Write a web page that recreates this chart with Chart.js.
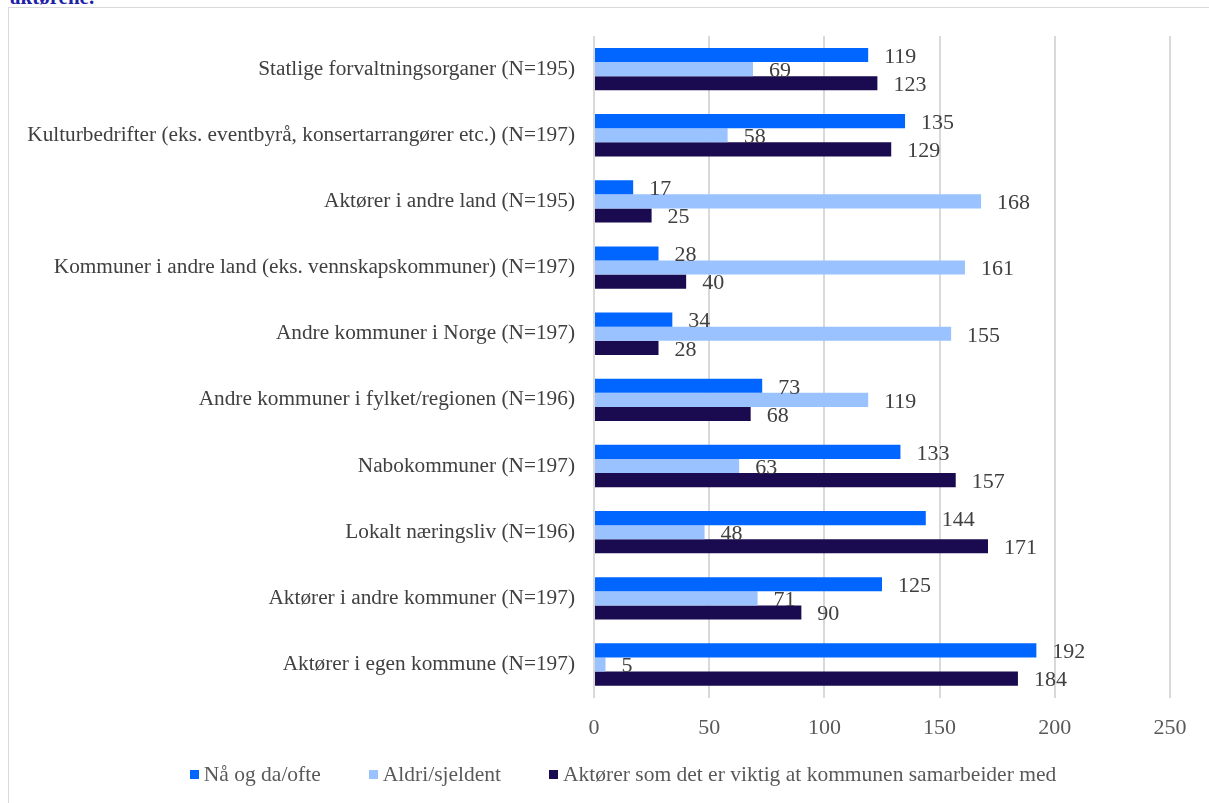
<!DOCTYPE html>
<html>
<head>
<meta charset="utf-8">
<script src="https://cdn.jsdelivr.net/npm/chart.js@4/dist/chart.umd.min.js"></script>
<style>
  html, body { margin: 0; padding: 0; background: #fff; overflow: hidden; }
  body { width: 1209px; height: 803px; position: relative; }
  #topTekst { position: absolute; left: 10px; top: -15px; font-family: "Liberation Serif", serif; font-size: 21px; font-weight: bold; color: #1f1fa8; }
  #ramme { position: absolute; left: 8px; top: 7px; width: 1228px; height: 810px; border: 1px solid #d9d9d9; }
  #ramme canvas { position: absolute; left: 0; top: 0; }
  #forklaring { position: absolute; left: 0; width: 1228px; top: 754px; display: flex; justify-content: center;
    font-family: "Liberation Serif", serif; font-size: 21.5px; color: #595959; line-height: 24px; }
  .post { display: flex; align-items: center; margin: 0 24px; white-space: nowrap; }
  .boks { width: 9px; height: 9px; margin-right: 5px; }
</style>
</head>
<body>
<div id="topTekst">aktørene.</div>
<div id="ramme">
  <canvas id="chartSamarbeid" width="1228" height="810"></canvas>
  <div id="forklaring"></div>
</div>
<script>
const kategorier = [
  'Statlige forvaltningsorganer (N=195)',
  'Kulturbedrifter (eks. eventbyrå, konsertarrangører etc.) (N=197)',
  'Aktører i andre land (N=195)',
  'Kommuner i andre land (eks. vennskapskommuner) (N=197)',
  'Andre kommuner i Norge (N=197)',
  'Andre kommuner i fylket/regionen (N=196)',
  'Nabokommuner (N=197)',
  'Lokalt næringsliv (N=196)',
  'Aktører i andre kommuner (N=197)',
  'Aktører i egen kommune (N=197)'
];
const naaOgDaOfte = [119, 135, 17, 28, 34, 73, 133, 144, 125, 192];
const aldriSjeldent = [69, 58, 168, 161, 155, 119, 63, 48, 71, 5];
const viktigSamarbeid = [123, 129, 25, 40, 28, 68, 157, 171, 90, 184];
const serieNavn = ['Nå og da/ofte', 'Aldri/sjeldent', 'Aktører som det er viktig at kommunen samarbeider med'];
const xTicks = [0, 50, 100, 150, 200, 250];

const serif = '"Liberation Serif", "Times New Roman", serif';

// verdietiketter til høyre for hver stolpe
const verdiEtiketter = {
  id: 'verdiEtiketter',
  afterDatasetsDraw(chart) {
    const ctx = chart.ctx;
    ctx.save();
    ctx.font = '22px ' + serif;
    ctx.fillStyle = '#404040';
    ctx.textAlign = 'left';
    ctx.textBaseline = 'middle';
    chart.data.datasets.forEach((ds, i) => {
      chart.getDatasetMeta(i).data.forEach((bar, j) => {
        ctx.fillText(ds.data[j], bar.x + 16, bar.y + 2);
      });
    });
    ctx.restore();
  }
};

const ctx = document.getElementById('chartSamarbeid').getContext('2d');
const chart = new Chart(ctx, {
  type: 'bar',
  data: {
    labels: kategorier,
    datasets: [
      { label: serieNavn[0], data: naaOgDaOfte, backgroundColor: '#0066ff' },
      { label: serieNavn[1], data: aldriSjeldent, backgroundColor: '#99c2ff' },
      { label: serieNavn[2], data: viktigSamarbeid, backgroundColor: '#1a0a4f' }
    ]
  },
  options: {
    indexAxis: 'y',
    responsive: false,
    animation: false,
    categoryPercentage: 0.64,
    barPercentage: 1,
    layout: { padding: { top: 28, right: 67, bottom: 60, left: 0 } },
    plugins: {
      legend: { display: false },
      tooltip: { enabled: false }
    },
    scales: {
      x: {
        min: 0,
        max: 250,
        afterBuildTicks: s => { s.ticks = xTicks.map(v => ({ value: v })); },
        grid: { color: '#d9d9d9', lineWidth: 2, drawTicks: false },
        border: { display: false },
        ticks: { font: { family: serif, size: 22 }, color: '#595959', padding: 17 }
      },
      y: {
        afterFit: s => { s.width = 585; s.paddingTop = 0; s.paddingBottom = 0; },
        grid: { display: false, drawTicks: false },
        border: { display: false },
        ticks: { font: { family: serif, size: 21.3 }, color: '#404040', padding: 19, autoSkip: false }
      }
    }
  },
  plugins: [verdiEtiketter]
});

// forklaring (legend) bygget fra datasettene
const forklaring = document.getElementById('forklaring');
chart.data.datasets.forEach(ds => {
  const post = document.createElement('div');
  post.className = 'post';
  const boks = document.createElement('span');
  boks.className = 'boks';
  boks.style.background = ds.backgroundColor;
  const tekst = document.createElement('span');
  tekst.textContent = ds.label;
  post.appendChild(boks);
  post.appendChild(tekst);
  forklaring.appendChild(post);
});
</script>
</body>
</html>
